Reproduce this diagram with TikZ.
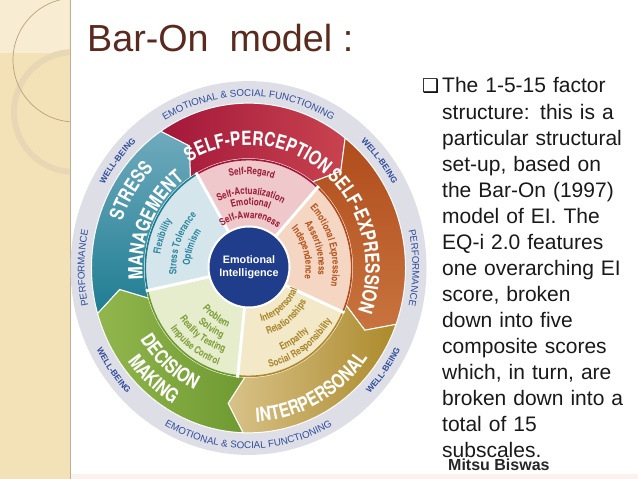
\documentclass[tikz,border=0pt]{standalone}
\usepackage{fontspec}
\setmainfont{Liberation Sans}
\newfontfamily\bandfontfam{TeX Gyre Heros}[FakeStretch=0.8]
\newfontfamily\dejavu{DejaVu Sans}
\usetikzlibrary{decorations.text}
\definecolor{titlebrown}{HTML}{5B2A1F}
\definecolor{ringgray}{HTML}{DEDFE6}
\definecolor{ringblue}{HTML}{2F4B9C}
\definecolor{spdark}{HTML}{A3173A}\definecolor{splight}{HTML}{C8434F}\definecolor{spin}{HTML}{EFC8CC}\definecolor{sptext}{HTML}{9E1C38}
\definecolor{sedark}{HTML}{B04C1C}\definecolor{selight}{HTML}{C8743F}\definecolor{sein}{HTML}{F5D6C3}\definecolor{setext}{HTML}{B5541E}
\definecolor{ipdark}{HTML}{AC8A2C}\definecolor{iplight}{HTML}{D8C288}\definecolor{ipin}{HTML}{F3E8C8}\definecolor{iptext}{HTML}{A8872C}
\definecolor{dmdark}{HTML}{6E9A31}\definecolor{dmlight}{HTML}{92B64E}\definecolor{dmin}{HTML}{E5EDCC}\definecolor{dmtext}{HTML}{7E9E38}
\definecolor{smdark}{HTML}{1F7D92}\definecolor{smlight}{HTML}{6FAABD}\definecolor{smin}{HTML}{D4E6EC}\definecolor{smtext}{HTML}{2E86A0}
\definecolor{eiblue}{HTML}{1F3D8A}
\definecolor{strip}{HTML}{F3E1B7}\definecolor{striplight}{HTML}{F8EDD3}\definecolor{stripline}{HTML}{BCAE93}
\definecolor{arcbrown}{HTML}{B9A27A}\definecolor{ringpale}{HTML}{E7D7B4}
\definecolor{bottomtint}{HTML}{FCF1EC}
\newcommand\bandfmt{\bandfontfam\bfseries\fontsize{19.5}{19.5}\selectfont\color{white}}
\newcommand\subfmt{\bandfontfam\bfseries\fontsize{10}{10}\selectfont}
\newcommand\ringfmt{\fontsize{9.8}{10}\selectfont\color{ringblue}}
\newcommand\wbfmt{\bfseries\fontsize{8.5}{9}\selectfont\color{ringblue}}
% text along a clockwise arc (letters outward)
\newcommand\TopTxt[5]{\path[decorate,decoration={text along path,text align=center,text={|#4|#5}}] ({#1+#3}:#2) arc[start angle={#1+#3},end angle={#1-#3},radius=#2];}
% text along a counter-clockwise arc (letters inward)
\newcommand\BotTxt[5]{\path[decorate,decoration={text along path,text align=center,text={|#4|#5}}] ({#1-#3}:#2) arc[start angle={#1-#3},end angle={#1+#3},radius=#2];}
\newcommand\Band[3]{\path[#3] (#1:157) -- ({#1-7}:130.5) -- (#1:104) arc[start angle=#1,end angle=#2,radius=104] -- ({#2-7}:130.5) -- (#2:157) arc[start angle=#2,end angle=#1,radius=157] -- cycle;}
\newcommand\Sector[4]{\fill[#3] (0,0) -- (#1:104) arc[start angle=#1,end angle=#2,radius=104] -- cycle;
  \draw[#4,line width=1.6] (#1:103.2) arc[start angle=#1,end angle=#2,radius=103.2];}
\begin{document}
\begin{tikzpicture}[x=1pt,y=1pt]
\useasboundingbox (0,0) rectangle (638,479);
\fill[white] (0,0) rectangle (638,479);
\fill[bottomtint] (70,0) rectangle (638,5);
% left decorative strip
\fill[strip] (0,0) rectangle (69.5,479);
\begin{scope}
  \clip (0,0) rectangle (69.5,479);
  \fill[striplight] (0,426) rectangle (69.5,479);
  \draw[ringpale,line width=6] (74,367) circle[radius=60];
  \draw[arcbrown,line width=0.7] (75,419) circle[radius=62];
\end{scope}
\draw[stripline,line width=0.8] (70,0) -- (70,479);
% title
\node[anchor=base west,inner sep=0,font=\fontsize{37.7}{40}\selectfont,text=titlebrown] (title) at (87,427) {Bar-On\ \ model :};
% wheel
\begin{scope}[shift={(248.5,211)},y=1.05pt]
  \fill[ringgray] (0,0) circle[radius=178];
  \Band{124}{52}{draw=white,line width=1,left color=spdark,right color=splight}
  \Band{52}{-20}{draw=white,line width=1,top color=sedark,bottom color=selight}
  \Band{-20}{-92}{draw=white,line width=1,left color=iplight,right color=ipdark}
  \Band{-92}{-164}{draw=white,line width=1,left color=dmlight,right color=dmdark}
  \Band{-164}{-236}{draw=white,line width=1,top color=smlight,bottom color=smdark}
  \Sector{120}{48}{spin}{spdark}
  \Sector{48}{-24}{sein}{sedark}
  \Sector{-24}{-96}{ipin}{ipdark}
  \Sector{-96}{-168}{dmin}{dmdark}
  \Sector{-168}{-240}{smin}{smdark}
  \foreach \a in {120,48,-24,-96,-168} \draw[white,line width=3] (0,0) -- (\a:105);
  % ring texts
  \TopTxt{90}{163.5}{50}{\ringfmt}{EMOTIONAL {\&} SOCIAL FUNCTIONING}
  \BotTxt{-90}{172}{50}{\ringfmt}{EMOTIONAL {\&} SOCIAL FUNCTIONING}
  \TopTxt{142}{164.5}{20}{\wbfmt}{WELL-BEING}
  \TopTxt{38}{164.5}{20}{\wbfmt}{WELL-BEING}
  \BotTxt{216}{170.5}{20}{\wbfmt}{WELL-BEING}
  \BotTxt{-36}{170.5}{20}{\wbfmt}{WELL-BEING}
  \TopTxt{180}{164}{25}{\ringfmt}{PERFORMANCE}
  \TopTxt{0}{164}{25}{\ringfmt}{PERFORMANCE}
  % band names
  \TopTxt{85}{117}{60}{\bandfmt}{SELF-PERCEPTION}
  \TopTxt{14}{117}{60}{\bandfmt}{SELF-EXPRESSION}
  \BotTxt{-62}{147}{60}{\bandfmt}{INTERPERSONAL}
  \BotTxt{229.5}{128}{60}{\bandfmt}{DECISION}
  \BotTxt{229}{150}{60}{\bandfmt}{MAKING}
  \TopTxt{147}{134}{60}{\bandfmt}{STRESS}
  \TopTxt{156}{106}{60}{\bandfmt}{MANAGEMENT}
  % subscales
  \TopTxt{88}{89}{50}{\subfmt\color{sptext}}{Self-Regard}
  \TopTxt{88}{70}{60}{\subfmt\color{sptext}}{Self-Actualization}
  \TopTxt{88}{60}{60}{\subfmt\color{sptext}}{Emotional}
  \TopTxt{88}{47.5}{80}{\subfmt\color{sptext}}{Self-Awareness}
  \TopTxt{16}{84}{60}{\subfmt\color{setext}}{Emotional Expression}
  \TopTxt{16}{70}{60}{\subfmt\color{setext}}{Assertiveness}
  \TopTxt{16}{57}{70}{\subfmt\color{setext}}{Independence}
  \TopTxt{160}{89}{60}{\subfmt\color{smtext}}{Flexibility}
  \TopTxt{160}{72}{60}{\subfmt\color{smtext}}{Stress Tolerance}
  \TopTxt{160}{58.5}{70}{\subfmt\color{smtext}}{Optimism}
  \BotTxt{236}{60}{70}{\subfmt\color{dmtext}}{Problem}
  \BotTxt{238}{72}{60}{\subfmt\color{dmtext}}{Solving}
  \BotTxt{235}{84}{60}{\subfmt\color{dmtext}}{Reality Testing}
  \BotTxt{235}{97}{60}{\subfmt\color{dmtext}}{Impulse Control}
  \BotTxt{-50}{53}{70}{\subfmt\color{iptext}}{Interpersonal}
  \BotTxt{-52}{66.5}{60}{\subfmt\color{iptext}}{Relationships}
  \BotTxt{-57}{85.5}{60}{\subfmt\color{iptext}}{Empathy}
  \BotTxt{-55}{97}{60}{\subfmt\color{iptext}}{Social Responsibility}
\end{scope}
\node[circle,fill=eiblue,draw=white,line width=2,minimum size=81,inner sep=0,text=white,align=center,font=\bfseries\fontsize{10.8}{13.5}\selectfont] (ei) at (249,212) {Emotional\\Intelligence};
% right text
\node[anchor=base west,inner sep=0,font=\dejavu\fontsize{19}{19}\selectfont] (bullet) at (422,386) {❑};
\node[anchor=base west,inner sep=0,text width=200pt,align=left,font=\fontsize{21}{26.07}\selectfont,text=black!90] (body) at (442,386) {The 1-5-15 factor\\structure: this is a\\particular structural\\set-up, based on\\the Bar-On (1997)\\model of EI. The\\EQ-i 2.0 features\\one overarching EI\\score, broken\\down into five\\composite scores\\which, in turn, are\\broken down into a\\total of 15\\subscales.};
\node[anchor=base west,inner sep=0,font=\bfseries\fontsize{16}{16}\selectfont,text=black!85] (author) at (448,8) {Mitsu Biswas};
\end{tikzpicture}
\end{document}
